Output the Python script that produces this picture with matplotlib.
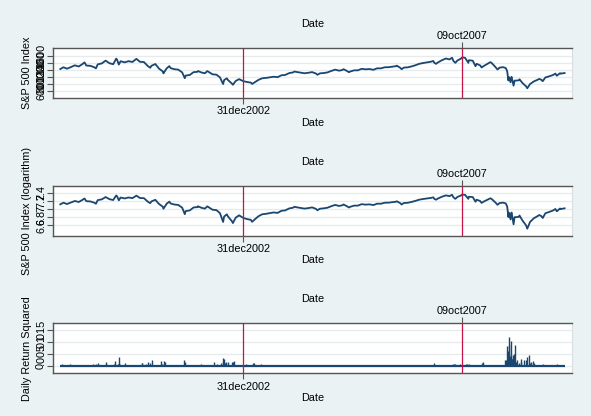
import numpy as np
import pandas as pd
import matplotlib
matplotlib.use("Agg")
import matplotlib.pyplot as plt
import matplotlib.dates as mdates

plt.rcParams['font.family'] = ['Liberation Sans', 'DejaVu Sans']

# S&P 500 month-end closes, 1999-2009
monthly_close = [
    1279.6, 1238.3, 1286.4, 1335.2, 1301.8, 1372.7, 1328.7, 1320.4, 1282.7, 1362.9, 1389.0, 1469.3,
    1394.5, 1366.4, 1498.6, 1452.4, 1420.6, 1454.6, 1430.8, 1517.7, 1436.5, 1429.4, 1315.2, 1320.3,
    1366.0, 1239.9, 1160.3, 1249.5, 1255.8, 1224.4, 1211.2, 1133.6, 1040.9, 1059.8, 1139.5, 1148.1,
    1130.2, 1106.7, 1147.4, 1076.9, 1067.1, 989.8, 911.6, 916.1, 815.3, 885.8, 936.3, 879.8,
    855.7, 841.2, 848.2, 916.9, 963.6, 974.5, 990.3, 1008.0, 996.0, 1050.7, 1058.2, 1111.9,
    1131.1, 1144.9, 1126.2, 1107.3, 1120.7, 1140.8, 1101.7, 1104.2, 1114.6, 1130.2, 1173.8, 1211.9,
    1181.3, 1203.6, 1180.6, 1156.9, 1191.5, 1191.3, 1234.2, 1220.3, 1228.8, 1207.0, 1249.5, 1248.3,
    1280.1, 1280.7, 1294.9, 1310.6, 1270.1, 1270.2, 1276.7, 1303.8, 1335.9, 1377.9, 1400.6, 1418.3,
    1438.2, 1406.8, 1420.9, 1482.4, 1530.6, 1503.4, 1455.3, 1474.0, 1526.8, 1549.4, 1481.1, 1468.4,
    1378.6, 1330.6, 1322.7, 1385.6, 1400.4, 1280.0, 1267.4, 1282.8, 1166.4, 968.8, 896.2, 903.3,
    825.9, 735.1, 797.9, 872.8, 919.1, 919.3, 987.5, 1020.6, 1057.1, 1036.2, 1095.6, 1115.1,
]
monthly_dates = pd.date_range('1999-01-01', '2009-12-31', freq='BME')

# intra-month highs / lows and the first trading day
extra_dates = [
    '1999-01-04', '1999-07-16', '1999-10-15', '2000-03-24', '2000-04-14', '2000-09-01',
    '2000-12-20', '2001-01-30', '2001-04-04', '2001-05-21', '2001-09-21', '2002-01-04',
    '2002-03-19', '2002-07-23', '2002-08-22', '2002-10-09', '2002-11-27', '2003-03-11',
    '2004-02-11', '2004-08-12', '2005-03-07', '2005-04-20', '2006-05-05', '2006-06-13',
    '2007-02-20', '2007-03-14', '2007-07-19', '2007-08-15', '2007-10-09', '2007-11-26',
    '2008-01-22', '2008-03-10', '2008-05-19', '2008-07-15', '2008-09-19', '2008-10-10',
    '2008-10-13', '2008-10-27', '2008-11-04', '2008-11-20', '2009-01-06', '2009-03-09',
    '2009-06-12', '2009-07-10', '2009-10-19', '2009-11-25',
]
extra_close = [
    1228.1, 1418.8, 1247.4, 1527.5, 1356.6, 1520.8,
    1264.7, 1373.7, 1103.3, 1312.8, 965.8, 1172.5,
    1170.3, 797.7, 962.7, 776.8, 938.9, 800.7,
    1157.8, 1063.2, 1225.3, 1137.5, 1325.8, 1223.7,
    1459.7, 1377.9, 1553.1, 1406.7, 1565.2, 1407.2,
    1310.5, 1273.4, 1426.6, 1214.9, 1255.1, 899.2,
    1003.4, 848.9, 1005.8, 752.4, 934.7, 676.5,
    946.2, 879.1, 1097.9, 1110.6,
]

# squared daily returns on notable days
ret_dates = [
    '1999-01-14', '1999-03-23', '1999-05-24', '1999-06-16', '1999-08-04', '1999-09-23',
    '1999-10-15', '1999-10-28', '2000-01-04', '2000-01-06', '2000-03-07', '2000-03-16',
    '2000-04-04', '2000-04-12', '2000-04-14', '2000-04-17', '2000-04-18', '2000-05-30',
    '2000-10-12', '2000-10-13', '2000-10-19', '2000-11-20', '2000-12-05', '2000-12-20',
    '2001-01-03', '2001-02-28', '2001-03-12', '2001-03-22', '2001-04-05', '2001-04-18',
    '2001-06-14', '2001-09-17', '2001-09-20', '2001-09-24', '2001-11-08', '2002-01-29',
    '2002-05-08', '2002-06-03', '2002-07-10', '2002-07-19', '2002-07-24', '2002-07-29',
    '2002-08-05', '2002-08-14', '2002-09-03', '2002-10-01', '2002-10-10', '2002-10-11',
    '2002-10-15', '2002-11-21', '2003-01-24', '2003-03-17', '2003-03-24', '2003-05-19',
    '2004-03-22', '2004-05-10', '2005-04-15', '2006-06-13', '2007-02-27', '2007-03-13',
    '2007-07-26', '2007-08-03', '2007-08-09', '2007-08-16', '2007-09-18', '2007-11-07',
    '2007-11-13', '2007-11-28', '2008-01-18', '2008-01-22', '2008-03-11', '2008-03-18',
    '2008-07-15', '2008-09-15', '2008-09-17', '2008-09-18', '2008-09-19', '2008-09-29',
    '2008-09-30', '2008-10-06', '2008-10-07', '2008-10-09', '2008-10-13', '2008-10-15',
    '2008-10-16', '2008-10-20', '2008-10-22', '2008-10-24', '2008-10-28', '2008-11-05',
    '2008-11-06', '2008-11-12', '2008-11-13', '2008-11-19', '2008-11-20', '2008-11-21',
    '2008-11-24', '2008-12-01', '2008-12-05', '2008-12-08', '2008-12-16', '2009-01-02',
    '2009-01-20', '2009-01-21', '2009-02-10', '2009-03-02', '2009-03-10', '2009-03-23',
    '2009-03-30', '2009-04-09', '2009-04-20', '2009-05-04', '2009-07-15', '2009-10-30',
]
ret_sq = [
    0.0006, 0.0007, 0.0004, 0.0005, 0.0004, 0.0008,
    0.0008, 0.0012, 0.0015, 0.0006, 0.0007, 0.0022,
    0.0006, 0.0005, 0.0036, 0.0011, 0.0009, 0.0010,
    0.0005, 0.0011, 0.0012, 0.0006, 0.0015, 0.0010,
    0.0024, 0.0005, 0.0019, 0.0006, 0.0019, 0.0015,
    0.0004, 0.0024, 0.0009, 0.0015, 0.0004, 0.0006,
    0.0014, 0.0006, 0.0011, 0.0015, 0.0031, 0.0028,
    0.0012, 0.0016, 0.0017, 0.0016, 0.0012, 0.0015,
    0.0022, 0.0005, 0.0008, 0.0012, 0.0012, 0.0006,
    0.0002, 0.0002, 0.0003, 0.0002, 0.0012, 0.0004,
    0.0006, 0.0007, 0.0009, 0.0004, 0.0008, 0.0009,
    0.0008, 0.0008, 0.0005, 0.0004, 0.0013, 0.0017,
    0.0005, 0.0023, 0.0023, 0.0018, 0.0015, 0.0085,
    0.0026, 0.0015, 0.0036, 0.0062, 0.0120, 0.0090,
    0.0018, 0.0021, 0.0040, 0.0012, 0.0105, 0.0029,
    0.0028, 0.0029, 0.0045, 0.0040, 0.0048, 0.0037,
    0.0040, 0.0088, 0.0013, 0.0014, 0.0025, 0.0010,
    0.0029, 0.0018, 0.0025, 0.0023, 0.0039, 0.0046,
    0.0012, 0.0014, 0.0019, 0.0011, 0.0008, 0.0008,
]

ref_dates = ['2002-12-31', '2007-10-09']
ref_labels = ['31dec2002', '09oct2007']

price_ticks = [600, 800, 1000, 1200, 1400, 1600]
log_ticks = [6.6, 6.8, 7.0, 7.2, 7.4]
log_tick_labels = ['6.6', '6.8', '7', '7.2', '7.4']
ret_ticks = [0, 0.005, 0.01, 0.015]
ret_tick_labels = ['0', '.005', '.01', '.015']

# build series
price = pd.concat([
    pd.Series(monthly_close, index=monthly_dates),
    pd.Series(extra_close, index=pd.to_datetime(extra_dates)),
]).sort_index()
ret = pd.Series(ret_sq, index=pd.to_datetime(ret_dates))

navy = '#1a476f'
red = '#c41448'
bg = '#eaf2f3'
axcol = '#555555'
grid = '#e6ecee'
fs = 7.8

fig = plt.figure(figsize=(5.91, 4.16), dpi=100, facecolor=bg)

xmin = mdates.date2num(pd.Timestamp('1998-11-07'))
xmax = mdates.date2num(pd.Timestamp('2010-02-28'))
d_low = mdates.date2num(pd.Timestamp(ref_dates[0]))
d_high = mdates.date2num(pd.Timestamp(ref_dates[1]))

W, H = 591, 416
panels = [
    # top px, bottom px
    (48, 98),
    (186, 235.7),
    (323.3, 373.3),
]


def setup(ax, ticks, labels, ylabel, ylim):
    ax.set_facecolor('white')
    ax.set_xlim(xmin, xmax)
    ax.set_ylim(*ylim)
    ax.set_yticks(ticks)
    ax.set_yticklabels(labels, rotation=90, va='center', fontsize=fs)
    ax.set_ylabel(ylabel, fontsize=fs, labelpad=3)
    ax.yaxis.grid(True, color=grid, lw=1.0)
    ax.set_axisbelow(True)
    ax.tick_params(axis='y', length=4, width=0.8, color=axcol, pad=1)
    ax.set_xticks([d_low])
    ax.set_xticklabels([ref_labels[0]], fontsize=fs)
    ax.tick_params(axis='x', length=4, width=0.8, color=axcol, pad=2)
    ax.set_xlabel('Date', fontsize=fs, labelpad=1)
    for s in ['top', 'bottom', 'left']:
        ax.spines[s].set_color(axcol)
        ax.spines[s].set_linewidth(1.0)
    ax.spines['right'].set_color('#d8dde0')
    ax.spines['right'].set_linewidth(0.8)
    ax.axvline(d_low, color=red, lw=0.9, zorder=3)
    ax.axvline(d_high, color=red, lw=0.9, zorder=3)
    top = ax.twiny()
    top.set_xlim(xmin, xmax)
    top.set_xticks([d_high])
    top.set_xticklabels([ref_labels[1]], fontsize=fs)
    top.tick_params(axis='x', length=4, width=0.8, color=axcol, pad=1)
    top.set_xlabel('Date', fontsize=fs, labelpad=3)
    for s in top.spines.values():
        s.set_visible(False)


axes = []
for (t, b) in panels:
    ax = fig.add_axes([53 / W, 1 - b / H, (572 - 53) / W, (b - t) / H])
    axes.append(ax)

x = mdates.date2num(price.index)

ax1 = axes[0]
ax1.plot(x, price.values, color=navy, lw=1.3, zorder=2)
setup(ax1, price_ticks, [str(v) for v in price_ticks], 'S&P 500 Index', (398, 1832))

ax2 = axes[1]
ax2.plot(x, np.log(price.values), color=navy, lw=1.3, zorder=2)
setup(ax2, log_ticks, log_tick_labels, 'S&P 500 Index (logarithm)', (6.345, 7.564))

ax3 = axes[2]
xr = mdates.date2num(ret.index)
ax3.hlines(0.00008, x[0], x[-1], color=navy, lw=1.6, zorder=2)
ax3.vlines(xr, 0, ret.values, color=navy, lw=1.0, zorder=2)
setup(ax3, ret_ticks, ret_tick_labels, 'Daily Return Squared', (-0.0032, 0.018))

fig.savefig('out.png', dpi=100, facecolor=bg)
